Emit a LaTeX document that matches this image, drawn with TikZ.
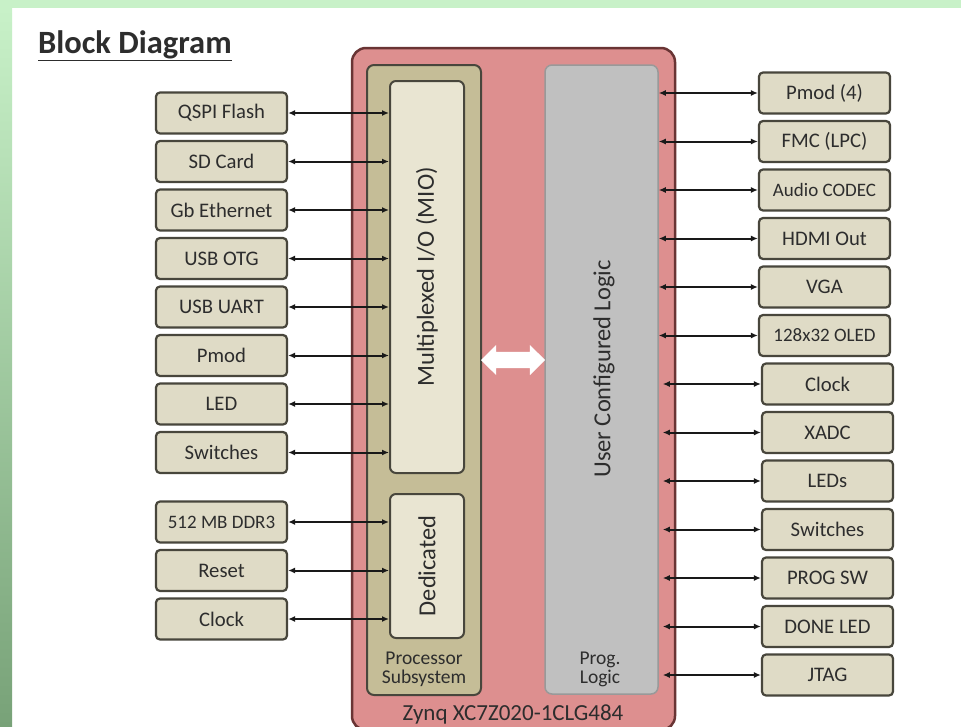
\documentclass[tikz,border=0pt]{standalone}
\usepackage{fontspec}
\setmainfont{Carlito}
\usetikzlibrary{arrows.meta,shapes.arrows}
\definecolor{zynqred}{RGB}{221,143,143}
\definecolor{zynqedge}{RGB}{105,52,52}
\definecolor{pstan}{RGB}{197,189,151}
\definecolor{boxtan}{RGB}{223,219,198}
\definecolor{miofill}{RGB}{233,229,210}
\definecolor{edgegrey}{RGB}{72,70,60}
\definecolor{plgrey}{RGB}{192,192,192}
\definecolor{bggreen}{RGB}{200,241,200}
\definecolor{bgdark}{RGB}{120,162,120}
\definecolor{txt}{RGB}{45,45,45}
\begin{document}
\begin{tikzpicture}[x=1pt, y=-1pt,
  every node/.style={font=\fontsize{20.7}{18}\selectfont, text=txt, inner sep=0pt},
  periph/.style={draw=edgegrey, line width=2.2pt, fill=boxtan, rounded corners=4pt, minimum width=131pt, minimum height=41pt},
  full/.style={},
  small/.style={font=\fontsize{19}{18}\selectfont},
  vlabel/.style={rotate=90, font=\fontsize{24.5}{24}\selectfont},
  twoline/.style={align=center, font=\fontsize{19.5}{19}\selectfont},
  block/.style={draw=edgegrey, line width=2pt, rounded corners=7pt},
  link/.style={line width=2pt, draw=black!90, {Latex[length=7pt,width=6pt]}-{Latex[length=7pt,width=6pt]}}]
  \path[use as bounding box, clip] (0,0) rectangle (961,726);
  \fill[white] (0,0) rectangle (961,726);
  \fill[bggreen] (0,0) rectangle (961,8);
  \shade[top color=bggreen, bottom color=bgdark] (0,8) rectangle (12,726);

  \node[anchor=base west, font=\fontsize{32.5}{33}\selectfont\bfseries] (title) at (38,53) {\underline{Block Diagram}};

  \node[draw=zynqedge, line width=2.5pt, fill=zynqred, rounded corners=14pt, minimum width=323pt, minimum height=682pt] (zynq) at (513.5,389) {};
  \node[block, fill=pstan, minimum width=114pt, minimum height=630pt] (ps) at (424,380) {};
  \node[block, fill=miofill, rounded corners=6pt, minimum width=74pt, minimum height=392pt] (mio) at (427,277) {};
  \node[block, fill=miofill, rounded corners=6pt, minimum width=74pt, minimum height=144pt] (ded) at (427,566) {};
  \node[block, draw=black!40, line width=1.5pt, fill=plgrey, minimum width=113pt, minimum height=629pt] (pl) at (601.5,379.5) {};

  \node[vlabel] (miolabel) at (mio.center) {Multiplexed I/O (MIO)};
  \node[vlabel] (dedlabel) at (ded.center) {Dedicated};
  \node[vlabel] (pllabel) at (604,369) {User Configured Logic};
  \node[twoline] (pslabel) at (424,669) {Processor\\Subsystem};
  \node[twoline] (pllow) at (600,669) {Prog.\\Logic};
  \node[font=\fontsize{23}{24}\selectfont] (zynqlabel) at (513,714) {Zynq XC7Z020-1CLG484};

  \node[double arrow, fill=white, minimum height=64pt, inner ysep=8pt, double arrow head extend=7pt] (bus) at (513,360) {};

  \foreach \name/\txt/\y/\sz in {qspi/QSPI Flash/113/full, sd/SD Card/161.5/full, gbe/Gb Ethernet/210/full, otg/USB OTG/258.5/full, uart/USB UART/307/full, pmod/Pmod/355.5/full, led/LED/404/full, sw/Switches/452.5/full}{
    \node[periph, \sz] (\name) at (221.5,\y) {\txt};
    \draw[link] (\name.east) -- (\name.east -| mio.west);
  }
  \foreach \name/\txt/\y/\sz in {ddr/512 MB DDR3/522/small, rst/Reset/570.5/full, clk/Clock/619/full}{
    \node[periph, \sz] (\name) at (221.5,\y) {\txt};
    \draw[link] (\name.east) -- (\name.east -| ded.west);
  }

  \foreach \name/\txt/\y/\sz in {pmodr/Pmod (4)/93/full, fmc/FMC (LPC)/141.5/full, codec/Audio CODEC/190/small, hdmi/HDMI Out/238.5/full, vga/VGA/287/full, oled/128x32 OLED/335.5/small}{
    \node[periph, \sz] (\name) at (824.5,\y) {\txt};
    \draw[link] (\name.west -| pl.east) -- (\name.west);
  }
  \foreach \name/\txt/\y in {clkr/Clock/384, xadc/XADC/432.5, leds/LEDs/481, swr/Switches/529.5, prog/PROG SW/578, done/DONE LED/626.5, jtag/JTAG/675}{
    \node[periph] (\name) at (827.5,\y) {\txt};
    \draw[link] ([xshift=4pt]\name.west -| pl.east) -- (\name.west);
  }
\end{tikzpicture}
\end{document}
